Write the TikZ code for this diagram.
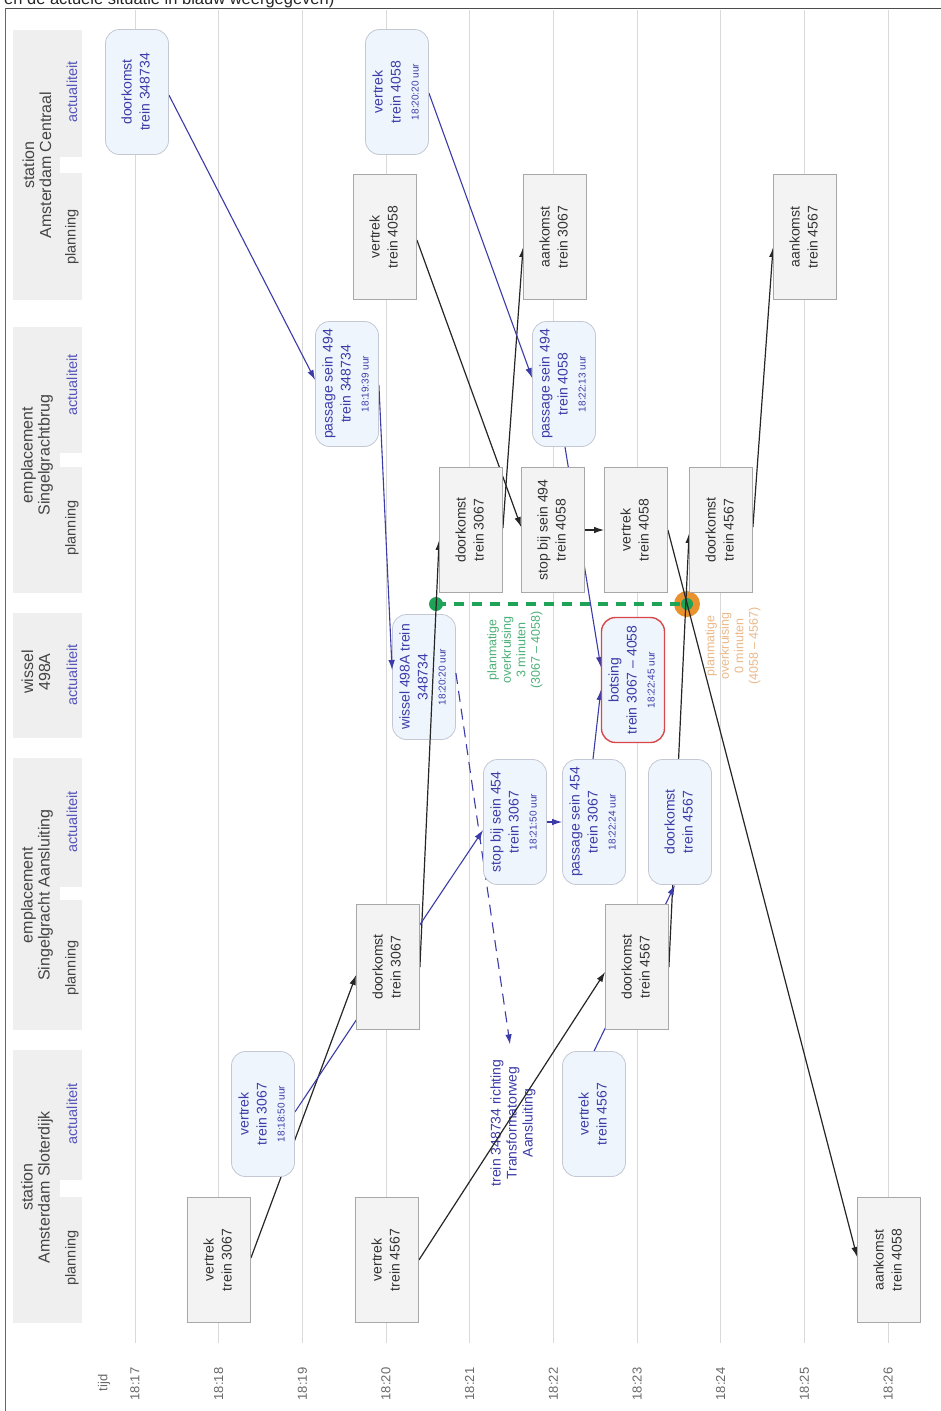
\documentclass[tikz,border=0pt]{standalone}
\usepackage{fontspec}
\setmainfont{Liberation Sans}
\usepackage{graphicx}
\usetikzlibrary{arrows.meta}

\definecolor{planfill}{HTML}{F3F3F3}
\definecolor{planline}{HTML}{A8A8A8}
\definecolor{actfill}{HTML}{EEF5FC}
\definecolor{actline}{HTML}{C4C8D4}
\definecolor{actblue}{HTML}{3C3CA8}
\definecolor{plantext}{HTML}{333333}
\definecolor{gridc}{HTML}{D9D9D9}
\definecolor{hdrfill}{HTML}{EFEFEF}
\definecolor{greenc}{HTML}{1FA356}
\definecolor{orangec}{HTML}{E8922E}
\definecolor{orangetext}{HTML}{EBB98A}
\definecolor{greentext}{HTML}{4DB079}
\definecolor{redc}{HTML}{D9474A}
\definecolor{lbl}{HTML}{444444}
\definecolor{lblblue}{HTML}{5555BB}

\newcommand{\rt}[1]{\rotatebox{90}{\begin{tabular}{@{}c@{}}#1\end{tabular}}}
\newcommand{\tm}[1]{{\fontsize{10}{12}\selectfont #1}}

\begin{document}
\begin{tikzpicture}[x=1pt,y=-1pt,
  planbox/.style={draw=planline, fill=planfill, line width=0.8pt, minimum width=63pt, minimum height=125pt, inner sep=0pt, text=plantext, font=\fontsize{14}{18}\selectfont},
  actbox/.style={planbox, draw=actline, fill=actfill, text=actblue, rounded corners=14pt},
  crashbox/.style={actbox, draw=redc, line width=1.4pt},
  pedge/.style={draw=black!85, line width=1.2pt, -{Latex[length=10pt,width=6.5pt]}},
  aedge/.style={draw=actblue, line width=1.1pt, -{Latex[length=10pt,width=6.5pt]}},
  hdr/.style={fill=hdrfill, draw=none},
  stlabel/.style={rotate=90, text=lbl, font=\fontsize{16}{17}\selectfont, align=center, inner sep=0pt},
  sublabel/.style={rotate=90, font=\fontsize{14.5}{16}\selectfont, inner sep=0pt},
  timelabel/.style={rotate=90, text=lbl!80, font=\fontsize{13}{14}\selectfont, inner sep=0pt},
  gridline/.style={draw=gridc, line width=0.9pt},
  note/.style={rotate=90, align=center, font=\fontsize{12.5}{14.5}\selectfont, inner sep=0pt}
]
\useasboundingbox (0,0) rectangle (940,1411);
\fill[white] (0,0) rectangle (940,1411);

% top cut text and frame
\node[anchor=base west, inner sep=0pt, text=black!85, font=\fontsize{16.5}{17}\selectfont] (toptext) at (4,4) {en de actuele situatie in blauw weergegeven)};
\draw[draw=black!70, line width=1.8pt] (5,8.5) -- (945,8.5);
\draw[draw=black!60, line width=1.2pt] (5.5,8) -- (5.5,1420);

% header bands
\fill[hdr] (13,30) rectangle (82,300);
\fill[white] (60,157) rectangle (82,173);
\fill[hdr] (13,327) rectangle (82,593);
\fill[white] (60,453) rectangle (82,467);
\fill[hdr] (13,613) rectangle (82,738);
\fill[hdr] (13,758) rectangle (82,1030);
\fill[white] (60,887) rectangle (82,900);
\fill[hdr] (13,1050) rectangle (82,1323);
\fill[white] (60,1180) rectangle (82,1197);

\node[stlabel] (hAC) at (37,165) {station\\Amsterdam Centraal};
\node[sublabel, text=lblblue] (hACa) at (72,92) {actualiteit};
\node[sublabel, text=lbl] (hACp) at (72,237) {planning};
\node[stlabel] (hSB) at (37,455) {emplacement\\Singelgrachtbrug};
\node[sublabel, text=lblblue] (hSBa) at (72,385) {actualiteit};
\node[sublabel, text=lbl] (hSBp) at (72,528) {planning};
\node[stlabel] (hW) at (36,672) {wissel\\498A};
\node[sublabel, text=lblblue] (hWa) at (72,675) {actualiteit};
\node[stlabel] (hSA) at (37,895) {emplacement\\Singelgracht Aansluiting};
\node[sublabel, text=lblblue] (hSAa) at (72,822) {actualiteit};
\node[sublabel, text=lbl] (hSAp) at (72,968) {planning};
\node[stlabel] (hAS) at (37,1187) {station\\Amsterdam Sloterdijk};
\node[sublabel, text=lblblue] (hASa) at (72,1114) {actualiteit};
\node[sublabel, text=lbl] (hASp) at (72,1258) {planning};

% grid and time axis
\foreach \k/\t in {0/18:17,1/18:18,2/18:19,3/18:20,4/18:21,5/18:22,6/18:23,7/18:24,8/18:25,9/18:26}{
  \draw[gridline] ({135+83.67*\k},10) -- ({135+83.67*\k},1343);
  \node[timelabel] (t\k) at ({135+83.67*\k},1384) {\t};
}
\node[timelabel] (tijd) at (104,1383) {tijd};

% crossing markers
\coordinate (g1) at (436,604);
\coordinate (g2) at (687,604);
\fill[orangec] (g2) circle (13);
\draw[greenc, line width=4.5pt, dash pattern=on 10pt off 8pt] (g1) -- (g2);
\fill[greenc] (g1) circle (7);
\fill[greenc] (g2) circle (6);
\node[note, text=greentext] (ngreen) at (515,650) {planmatige\\overkruising\\3 minuten\\(3067 -- 4058)};
\node[note, text=orangetext] (norange) at (733,646) {planmatige\\overkruising\\0 minuten\\(4058 -- 4567)};

% node drawn under the connectors
\node[actbox] (w498) at (424,677) {\rt{wissel 498A trein\\348734\\\tm{18:20:20 uur}}};

% the other nodes: placed invisibly first (for anchors), drawn visibly after the connectors
\begin{scope}[every node/.append style={opacity=0}]
\node[actbox] (d348734) at (137,92) {\rt{doorkomst\\trein 348734}};
\node[actbox] (v4058a) at (397,92) {\rt{vertrek\\trein 4058\\\tm{18:20:20 uur}}};
\node[planbox] (vp4058AC) at (385,237) {\rt{vertrek\\trein 4058}};
\node[planbox] (aa3067) at (555,237) {\rt{aankomst\\trein 3067}};
\node[planbox] (aa4567) at (805,237) {\rt{aankomst\\trein 4567}};
\node[actbox] (ps494a) at (347,384) {\rt{passage sein 494\\trein 348734\\\tm{18:19:39 uur}}};
\node[actbox] (ps494b) at (564,384) {\rt{passage sein 494\\trein 4058\\\tm{18:22:13 uur}}};
\node[planbox] (dp3067SB) at (471,530) {\rt{doorkomst\\trein 3067}};
\node[planbox] (sp494) at (553,530) {\rt{stop bij sein 494\\trein 4058}};
\node[planbox] (vp4058SB) at (636,530) {\rt{vertrek\\trein 4058}};
\node[planbox] (dp4567SB) at (721,530) {\rt{doorkomst\\trein 4567}};
\node[crashbox] (botsing) at (633,680) {\rt{botsing\\trein 3067 -- 4058\\\tm{18:22:45 uur}}};
\node[actbox] (sb454) at (515,822) {\rt{stop bij sein 454\\trein 3067\\\tm{18:21:50 uur}}};
\node[actbox] (ps454) at (594,822) {\rt{passage sein 454\\trein 3067\\\tm{18:22:24 uur}}};
\node[actbox] (d4567a) at (680,822) {\rt{doorkomst\\trein 4567}};
\node[planbox] (dp3067SA) at (388,967) {\rt{doorkomst\\trein 3067}};
\node[planbox] (dp4567SA) at (637,967) {\rt{doorkomst\\trein 4567}};
\node[actbox] (v3067a) at (263,1114) {\rt{vertrek\\trein 3067\\\tm{18:18:50 uur}}};
\node[actbox] (v4567a) at (594,1114) {\rt{vertrek\\trein 4567}};
\node[planbox] (vp3067) at (219,1260) {\rt{vertrek\\trein 3067}};
\node[planbox] (vp4567AS) at (387,1260) {\rt{vertrek\\trein 4567}};
\node[planbox] (aan4058) at (889,1260) {\rt{aankomst\\trein 4058}};
\end{scope}
\node[rotate=90, align=center, text=actblue, inner xsep=15pt, inner ysep=0pt, font=\fontsize{14}{16}\selectfont] (trtext) at (513,1123) {trein 348734 richting\\Transformatorweg\\Aansluiting};

% planning connectors
\draw[pedge] (vp3067.east |- 0,1258) -- (dp3067SA.west |- 0,975);
\draw[pedge] (dp3067SA.east |- 0,967) -- (dp3067SB.west |- 0,540);
\draw[pedge] (dp3067SB.east |- 0,528) -- (aa3067.west |- 0,247);
\draw[pedge] (vp4058AC.east |- 0,240) -- (sp494.west |- 0,527);
\draw[pedge] (sp494.east) -- (vp4058SB.west);
\draw[pedge] (vp4058SB.east |- 0,530) -- (aan4058.west |- 0,1257);
\draw[pedge] (vp4567AS.east |- 0,1260) -- (dp4567SA.west |- 0,972);
\draw[pedge] (dp4567SA.east |- 0,967) -- (dp4567SB.west |- 0,533);
\draw[pedge] (dp4567SB.east |- 0,527) -- (aa4567.west |- 0,247);

% actual connectors
\draw[aedge] (d348734.east |- 0,95) -- (ps494a.west |- 0,380);
\draw[aedge] (ps494a.east |- 0,385) -- (w498.west |- 0,670);
\draw[aedge, dash pattern=on 11pt off 7pt] (w498.east |- 0,673) -- (trtext.east -| 510,0);
\draw[aedge] (v4058a.east |- 0,93) -- (ps494b.west |- 0,378);
\draw[aedge] (ps494b.south -| 565,0) -- (botsing.west |- 0,667);
\draw[aedge] (v3067a.east |- 0,1112) -- (sb454.west |- 0,830);
\draw[aedge] (sb454.east) -- (ps454.west);
\draw[aedge] (ps454.north -| 593,0) -- (botsing.west |- 0,690);
\draw[aedge] (v4567a.north -| 594,0) -- (d4567a.south -| 675,0);

% visible nodes on top
\node[actbox] at (d348734) {\rt{doorkomst\\trein 348734}};
\node[actbox] at (v4058a) {\rt{vertrek\\trein 4058\\\tm{18:20:20 uur}}};
\node[planbox] at (vp4058AC) {\rt{vertrek\\trein 4058}};
\node[planbox] at (aa3067) {\rt{aankomst\\trein 3067}};
\node[planbox] at (aa4567) {\rt{aankomst\\trein 4567}};
\node[actbox] at (ps494a) {\rt{passage sein 494\\trein 348734\\\tm{18:19:39 uur}}};
\node[actbox] at (ps494b) {\rt{passage sein 494\\trein 4058\\\tm{18:22:13 uur}}};
\node[planbox] at (dp3067SB) {\rt{doorkomst\\trein 3067}};
\node[planbox] at (sp494) {\rt{stop bij sein 494\\trein 4058}};
\node[planbox] at (vp4058SB) {\rt{vertrek\\trein 4058}};
\node[planbox] at (dp4567SB) {\rt{doorkomst\\trein 4567}};
\node[crashbox] at (botsing) {\rt{botsing\\trein 3067 -- 4058\\\tm{18:22:45 uur}}};
\node[actbox] at (sb454) {\rt{stop bij sein 454\\trein 3067\\\tm{18:21:50 uur}}};
\node[actbox] at (ps454) {\rt{passage sein 454\\trein 3067\\\tm{18:22:24 uur}}};
\node[actbox] at (d4567a) {\rt{doorkomst\\trein 4567}};
\node[planbox] at (dp3067SA) {\rt{doorkomst\\trein 3067}};
\node[planbox] at (dp4567SA) {\rt{doorkomst\\trein 4567}};
\node[actbox] at (v3067a) {\rt{vertrek\\trein 3067\\\tm{18:18:50 uur}}};
\node[actbox] at (v4567a) {\rt{vertrek\\trein 4567}};
\node[planbox] at (vp3067) {\rt{vertrek\\trein 3067}};
\node[planbox] at (vp4567AS) {\rt{vertrek\\trein 4567}};
\node[planbox] at (aan4058) {\rt{aankomst\\trein 4058}};
\end{tikzpicture}
\end{document}
